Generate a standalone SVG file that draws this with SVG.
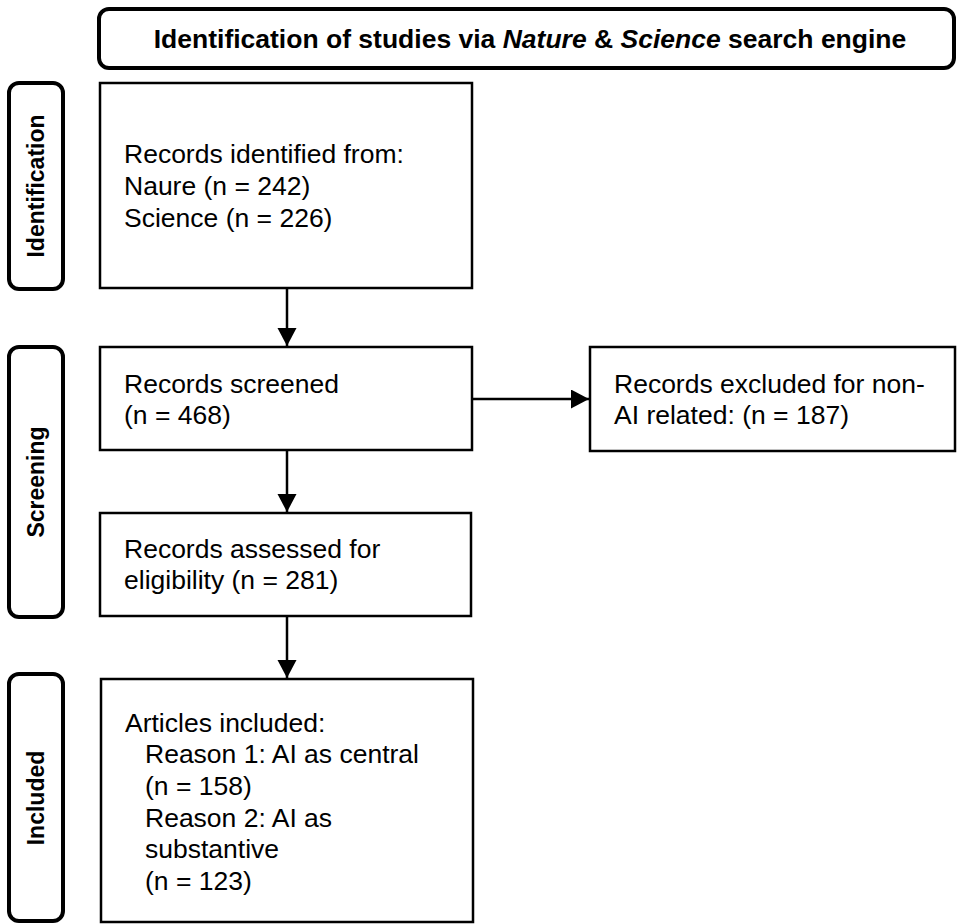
<svg xmlns="http://www.w3.org/2000/svg" width="957" height="924" viewBox="0 0 957 924">
<style>
.box{fill:#fff;stroke:#000;stroke-width:2.5}
.lbl{fill:#fff;stroke:#000;stroke-width:4}
.t{font-family:"Liberation Sans",Arial,sans-serif;font-size:26.5px;fill:#000}
.b{font-family:"Liberation Sans",Arial,sans-serif;font-weight:bold;fill:#000}
.c{stroke:#000;stroke-width:2.5;fill:none}
</style>
<defs>
<marker id="ah" markerUnits="userSpaceOnUse" markerWidth="20" markerHeight="20" refX="18" refY="9.5" orient="auto">
<path d="M0,0 L18,9.5 L0,19 z" fill="#000"/>
</marker>
</defs>
<rect width="957" height="924" fill="#fff"/>
<g id="header">
<rect class="lbl" x="99" y="9" width="855" height="59" rx="10"/>
<text class="b" x="530" y="48" font-size="26.5" text-anchor="middle">Identification of studies via <tspan font-style="italic">Nature</tspan> &amp; <tspan font-style="italic">Science</tspan> search engine</text>
</g>
<g id="phase-identification">
<rect class="lbl" x="9" y="83" width="54" height="206" rx="10"/>
<text class="b" font-size="23" text-anchor="middle" transform="translate(44,186) rotate(-90)">Identification</text>
</g>
<g id="phase-screening">
<rect class="lbl" x="9" y="347" width="54" height="270" rx="10"/>
<text class="b" font-size="23" text-anchor="middle" transform="translate(44,482) rotate(-90)">Screening</text>
</g>
<g id="phase-included">
<rect class="lbl" x="9" y="674" width="54" height="247" rx="10"/>
<text class="b" font-size="23" text-anchor="middle" transform="translate(44,798) rotate(-90)">Included</text>
</g>
<g id="identified">
<rect class="box" x="100" y="83" width="372" height="205"/>
<text class="t" x="124" y="163">Records identified from:</text>
<text class="t" x="124" y="195">Naure (n = 242)</text>
<text class="t" x="124" y="227">Science (n = 226)</text>
</g>
<g id="screened">
<rect class="box" x="100" y="347" width="372" height="103"/>
<text class="t" x="124" y="393">Records screened</text>
<text class="t" x="124" y="424">(n = 468)</text>
</g>
<g id="excluded">
<rect class="box" x="590" y="347" width="365" height="104"/>
<text class="t" x="614" y="393">Records excluded for non-</text>
<text class="t" x="614" y="424">AI related: (n = 187)</text>
</g>
<g id="assessed">
<rect class="box" x="100" y="513" width="371" height="103"/>
<text class="t" x="124" y="558">Records assessed for</text>
<text class="t" x="124" y="589">eligibility (n = 281)</text>
</g>
<g id="included">
<rect class="box" x="101" y="679" width="372" height="243"/>
<text class="t" x="125" y="732">Articles included:</text>
<text class="t" x="145" y="763">Reason 1: AI as central</text>
<text class="t" x="145" y="795">(n = 158)</text>
<text class="t" x="145" y="827">Reason 2: AI as</text>
<text class="t" x="145" y="858">substantive</text>
<text class="t" x="145" y="890">(n = 123)</text>
</g>
<g id="connectors">
<line class="c" x1="287" y1="288" x2="287" y2="346" marker-end="url(#ah)"/>
<line class="c" x1="287" y1="450" x2="287" y2="512" marker-end="url(#ah)"/>
<line class="c" x1="287" y1="616" x2="287" y2="678" marker-end="url(#ah)"/>
<line class="c" x1="472" y1="399" x2="589" y2="399" marker-end="url(#ah)"/>
</g>
</svg>
